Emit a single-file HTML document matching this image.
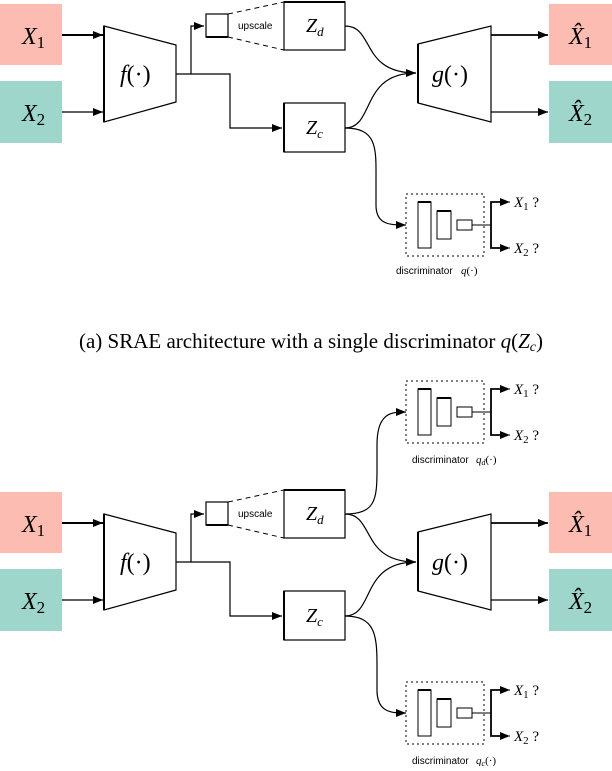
<!DOCTYPE html>
<html><head><meta charset="utf-8"><style>
html,body{margin:0;padding:0;background:#fff}
svg, svg text{font-family:"Liberation Serif","DejaVu Serif",serif}
svg text.s{font-family:"Liberation Sans","DejaVu Sans",sans-serif}
</style></head><body>
<svg width="612" height="766" viewBox="0 0 612 766" xmlns="http://www.w3.org/2000/svg" font-family="Liberation Serif, serif">
<defs>
<marker id="a" viewBox="0 0 10 8" refX="10" refY="4" markerWidth="10" markerHeight="8" markerUnits="userSpaceOnUse" orient="auto"><path d="M0,0L10,4L0,8z" fill="#000"/></marker>
<g id="main">
 <rect x="0" y="4" width="62" height="61" fill="#fdbcb1"/>
 <rect x="0" y="81" width="62" height="62" fill="#9fd6cc"/>
 <text x="22" y="44" font-size="24" font-style="italic">X<tspan font-style="normal" font-size="17" dy="4">1</tspan></text>
 <text x="22" y="121" font-size="24" font-style="italic">X<tspan font-style="normal" font-size="17" dy="4">2</tspan></text>
 <line x1="62" y1="35" x2="103" y2="35" stroke="#000" stroke-width="2" marker-end="url(#a)"/>
 <line x1="62" y1="112" x2="103" y2="112" stroke="#000" stroke-width="1.2" marker-end="url(#a)"/>
 <path d="M104,26L176,45L176,102L104,122z" fill="#fff" stroke="#000" stroke-width="1.2"/>
 <line x1="104" y1="26" x2="104" y2="122" stroke="#000" stroke-width="2"/>
 <text x="120" y="82" font-size="24" font-style="italic">f<tspan font-style="normal">(·)</tspan></text>
 <path d="M176,74H230V128H282" fill="none" stroke="#000" stroke-width="1.2" marker-end="url(#a)"/>
 <path d="M191,74V26H204" fill="none" stroke="#000" stroke-width="1.2" marker-end="url(#a)"/>
 <rect x="206" y="14" width="22" height="23" fill="#fff" stroke="#000" stroke-width="1.2"/>
 <line x1="206" y1="37" x2="228" y2="37" stroke="#000" stroke-width="2"/>
 <path d="M228,14L284,2M228,37L284,50" stroke="#000" stroke-dasharray="5,4" fill="none"/>
 <text x="238" y="29" font-size="10" class="s" font-family="Liberation Sans, sans-serif">upscale</text>
 <rect x="284" y="2" width="61" height="48" fill="#fff" stroke="#000" stroke-width="1.2"/>
 <line x1="284" y1="2" x2="345" y2="2" stroke="#000" stroke-width="2"/>
 <text x="306" y="32" font-size="20" font-style="italic">Z<tspan font-size="13" dy="4">d</tspan></text>
 <rect x="284" y="103" width="61" height="49" fill="#fff" stroke="#000" stroke-width="1.2"/>
 <line x1="284" y1="103" x2="284" y2="152" stroke="#000" stroke-width="2"/>
 <text x="306" y="134" font-size="20" font-style="italic">Z<tspan font-size="13" dy="4">c</tspan></text>
 <path d="M418,44L491,26L491,122L418,103z" fill="#fff" stroke="#000" stroke-width="1.2"/>
 <line x1="418" y1="44" x2="418" y2="103" stroke="#000" stroke-width="2"/>
 <text x="432" y="82" font-size="24" font-style="italic">g<tspan font-style="normal">(·)</tspan></text>
 <line x1="491" y1="35" x2="548" y2="35" stroke="#000" stroke-width="1.8" marker-end="url(#a)"/>
 <line x1="491" y1="112" x2="548" y2="112" stroke="#000" stroke-width="1.2" marker-end="url(#a)"/>
 <rect x="549" y="4" width="63" height="61" fill="#fdbcb1"/>
 <rect x="549" y="81" width="63" height="62" fill="#9fd6cc"/>
 <text x="569" y="44" font-size="24" font-style="italic">X̂<tspan font-style="normal" font-size="17" dy="4">1</tspan></text>
 <text x="569" y="121" font-size="24" font-style="italic">X̂<tspan font-style="normal" font-size="17" dy="4">2</tspan></text>
</g>
<g id="disc">
 <rect x="406" y="0" width="78" height="62" fill="none" stroke="#000" stroke-dasharray="2,3"/>
 <rect x="418" y="8" width="13" height="46" fill="#fff" stroke="#000"/>
 <line x1="418" y1="8" x2="431" y2="8" stroke="#000" stroke-width="2"/>
 <rect x="437" y="17" width="14" height="28" fill="#fff" stroke="#000"/>
 <line x1="437" y1="17" x2="451" y2="17" stroke="#000" stroke-width="2"/>
 <rect x="457" y="26" width="15" height="10" fill="#fff" stroke="#000"/>
 <line x1="472" y1="31" x2="491" y2="31" stroke="#000"/>
 <path d="M501,8H491V54H501" fill="none" stroke="#000" stroke-width="1.8"/>
 <line x1="500" y1="8" x2="510" y2="8" stroke="#000" marker-end="url(#a)"/>
 <line x1="500" y1="54" x2="510" y2="54" stroke="#000" marker-end="url(#a)"/>
 <text x="514" y="13" font-size="15" font-style="italic">X<tspan font-style="normal" font-size="11" dy="3">1</tspan><tspan dy="-3" font-style="normal"> ?</tspan></text>
 <text x="514" y="59" font-size="15" font-style="italic">X<tspan font-style="normal" font-size="11" dy="3">2</tspan><tspan dy="-3" font-style="normal"> ?</tspan></text>
</g>
</defs>

<!-- (a) -->
<use href="#main"/>
<path d="M345,26C375,26 360,73 416,73" fill="none" stroke="#000" stroke-width="1.2" marker-end="url(#a)"/>
<path d="M345,128C375,128 360,73 416,73" fill="none" stroke="#000" stroke-width="1.2"/>
<path d="M345,128C378,128 376,150 376,180V205C376,225 390,225 406,225" fill="none" stroke="#000" stroke-width="1.2" marker-end="url(#a)"/>
<use href="#disc" y="194"/>
<text x="396" y="274" font-size="10" class="s" font-family="Liberation Sans, sans-serif">discriminator</text>
<text x="461" y="274" font-size="11" font-style="italic">q<tspan font-style="normal">(·)</tspan></text>
<text x="311" y="348" font-size="21" text-anchor="middle" font-family="Liberation Serif, serif">(a) SRAE architecture with a single discriminator <tspan font-style="italic">q</tspan>(<tspan font-style="italic">Z<tspan font-size="14" dy="3">c</tspan></tspan><tspan dy="-3">)</tspan></text>

<!-- (b) -->
<use href="#main" y="488"/>
<path d="M345,514C375,514 360,562 416,562" fill="none" stroke="#000" stroke-width="1.2" marker-end="url(#a)"/>
<path d="M345,616C375,616 360,562 416,562" fill="none" stroke="#000" stroke-width="1.2"/>
<path d="M345,514C375,514 377,500 377,470V445C377,412 392,412 406,412" fill="none" stroke="#000" stroke-width="1.2" marker-end="url(#a)"/>
<path d="M345,616C375,616 377,635 377,665V690C377,713 392,713 406,713" fill="none" stroke="#000" stroke-width="1.2" marker-end="url(#a)"/>
<use href="#disc" y="381"/>
<use href="#disc" y="682"/>
<text x="412" y="463" font-size="10" class="s" font-family="Liberation Sans, sans-serif">discriminator</text>
<text x="476" y="463" font-size="11" font-style="italic">q<tspan font-size="8" dy="2">d</tspan><tspan dy="-2" font-style="normal">(·)</tspan></text>
<text x="412" y="764" font-size="10" class="s" font-family="Liberation Sans, sans-serif">discriminator</text>
<text x="476" y="764" font-size="11" font-style="italic">q<tspan font-size="8" dy="2">c</tspan><tspan dy="-2" font-style="normal">(·)</tspan></text>
</svg>
</body></html>
